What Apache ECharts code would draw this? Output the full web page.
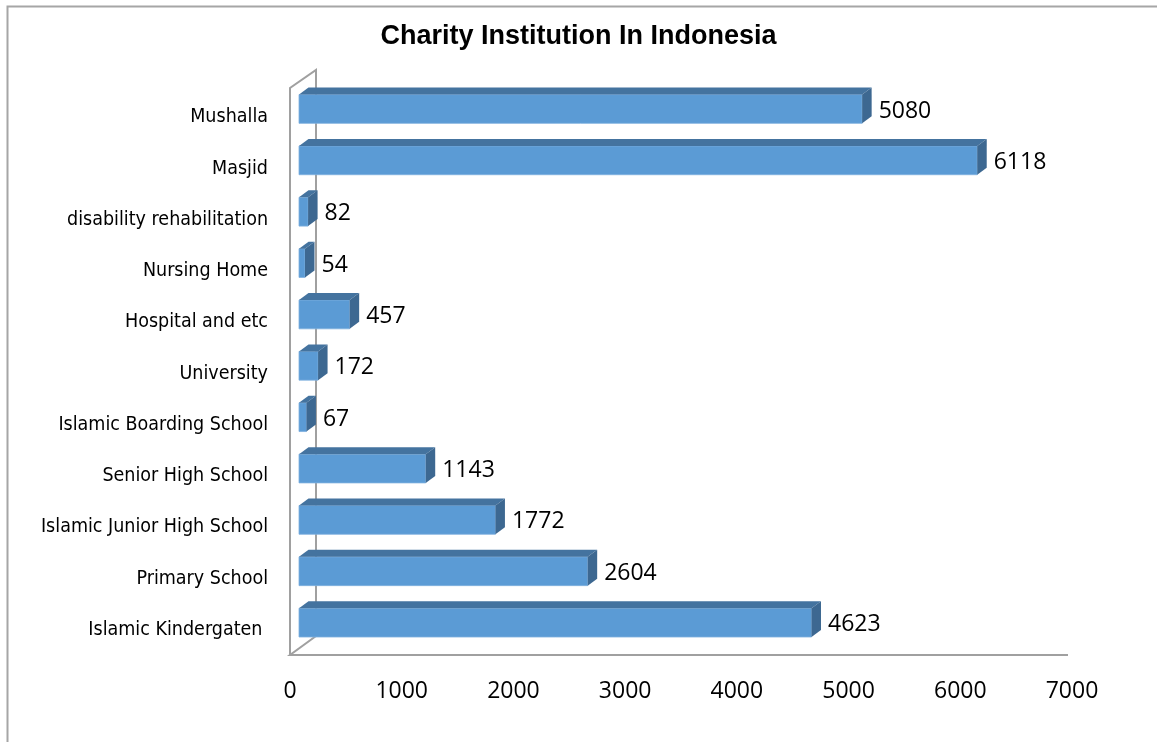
<!DOCTYPE html>
<html><head><meta charset="utf-8">
<script src="https://cdn.jsdelivr.net/npm/echarts@6/dist/echarts.min.js"></script>
<style>html,body{margin:0;padding:0;background:#fff}#c{width:1157px;height:742px}</style>
</head><body><div id="c"></div>
<script>
// Data (bottom to top, as in the original chart)
const categories = ["Islamic Kindergaten ", "Primary School", "Islamic Junior High School", "Senior High School",
  "Islamic Boarding School", "University", "Hospital and etc", "Nursing Home",
  "disability rehabilitation", "Masjid", "Mushalla"];
const values = [4623, 2604, 1772, 1143, 67, 172, 457, 54, 82, 6118, 5080];
const xTicks = { min: 0, max: 7000, interval: 1000 };

const chart = echarts.init(document.getElementById('c'));
const labelFont = '"Liberation Sans Narrow", "DejaVu Sans Condensed", "Liberation Sans", sans-serif';
const numFont = '"Open Sans", "Noto Sans", sans-serif';
const wallColor = '#a0a0a0';
const DX = 9.5, DY = -7;

const option = {
  animation: false,
  backgroundColor: '#ffffff',
  title: {
    text: 'Charity Institution In Indonesia',
    left: 'center', top: 18,
    textStyle: { fontFamily: '"Liberation Sans", Arial, sans-serif', fontSize: 27, fontWeight: 'bold', color: '#000' }
  },
  grid: [
    { left: 299, top: 83.3, width: 776, height: 565 },
    { left: 290, top: 91.6, width: 782, height: 564 }
  ],
  xAxis: [
    { gridIndex: 0, type: 'value', min: xTicks.min, max: xTicks.max, interval: xTicks.interval, show: false },
    { gridIndex: 1, type: 'value', min: xTicks.min, max: xTicks.max, interval: xTicks.interval,
      axisLine: { show: false }, axisTick: { show: false }, splitLine: { show: false },
      axisLabel: { fontFamily: numFont, fontSize: 23, color: '#000', margin: 24, formatter: v => String(v) } }
  ],
  yAxis: [
    { gridIndex: 0, type: 'category', data: categories, show: false },
    { gridIndex: 1, type: 'category', data: categories,
      axisLine: { show: false }, axisTick: { show: false }, splitLine: { show: false },
      axisLabel: { fontFamily: labelFont, fontSize: 19.5, color: '#000', margin: 22, padding: [4, 0, 0, 0] } }
  ],
  graphic: [
    { type: 'rect', shape: { x: 7.5, y: 6.5, width: 1300, height: 900 }, style: { fill: 'none', stroke: '#a6a6a6', lineWidth: 2 }, z: 0, silent: true },
    { type: 'polyline', shape: { points: [[290, 655], [290, 88], [316, 70], [316, 636], [290, 655], [1068, 655]] },
      style: { fill: 'none', stroke: wallColor, lineWidth: 2 }, z: 1, silent: true }
  ],
  series: [
    {
      type: 'custom', xAxisIndex: 0, yAxisIndex: 0, z: 5,
      data: values.map((v, i) => [v, i]),
      encode: { x: 0, y: 1 },
      renderItem: function (params, api) {
        const val = api.value(0), idx = api.value(1);
        const p0 = api.coord([0, idx]);
        const p1 = api.coord([val, idx]);
        const h = api.size([0, 1])[1] * 0.56;
        const x0 = p0[0], x1 = p1[0];
        const yt = p0[1] - h / 2, yb = p0[1] + h / 2;
        return {
          type: 'group',
          children: [
            { type: 'rect', shape: { x: x0, y: yt, width: x1 - x0, height: h }, style: { fill: '#5b9bd5', stroke: '#7fb0de', lineWidth: 0.8 } },
            { type: 'polygon', shape: { points: [[x0, yt], [x1, yt], [x1 + DX, yt + DY], [x0 + DX, yt + DY]] }, style: { fill: '#44739f' } },
            { type: 'polygon', shape: { points: [[x1, yt], [x1 + DX, yt + DY], [x1 + DX, yb + DY], [x1, yb]] }, style: { fill: '#3d6891' } },
            { type: 'text', style: { text: String(val), x: x1 + DX + 7, y: p0[1] + 2, align: 'left', verticalAlign: 'middle',
                fontFamily: numFont, fontSize: 23, fill: '#000' } }
          ]
        };
      }
    }
  ]
};
chart.setOption(option);
</script></body></html>
